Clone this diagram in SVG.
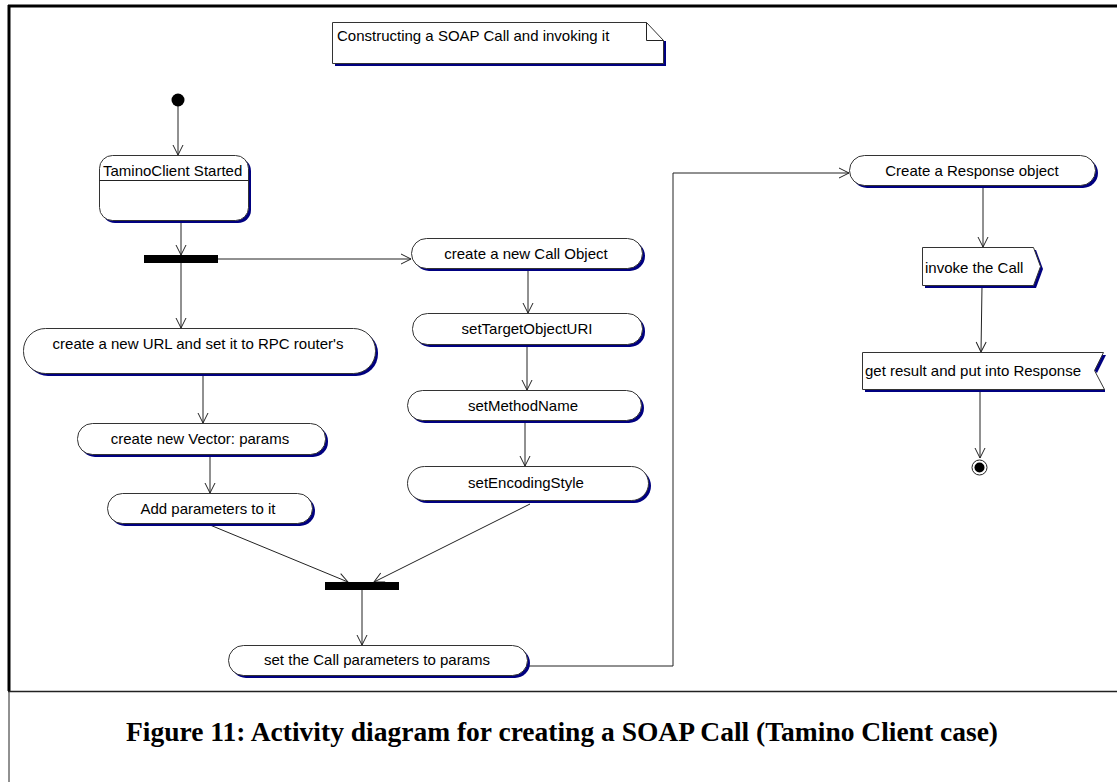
<svg xmlns="http://www.w3.org/2000/svg" width="1117" height="782" viewBox="0 0 1117 782">
  <style>
    .lbl { font-family: "Liberation Sans", Arial, sans-serif; font-size: 15px; fill: #000; }
    .mid { text-anchor: middle; }
    .box { fill: #fff; stroke: #333; stroke-width: 1; }
    .shadow { fill: #000080; }
    .edge { fill: none; stroke: #222; stroke-width: 1; }
    .cap { font-family: "Liberation Serif", "Times New Roman", serif; font-size: 27.5px; font-weight: bold; fill: #000; }
  </style>
  <defs>
    <marker id="open" markerUnits="userSpaceOnUse" markerWidth="12" markerHeight="12" refX="11" refY="6" orient="auto" viewBox="0 0 12 12">
      <path d="M1,1 L11,6 L1,11" fill="none" stroke="#222" stroke-width="1"/>
    </marker>
  </defs>

  <rect width="1117" height="782" fill="#fff"/>

  <!-- frame and caption cell -->
  <g id="frame">
    <line x1="8" y1="6" x2="1117" y2="6" stroke="#000" stroke-width="3"/>
    <line x1="9" y1="5" x2="9" y2="691" stroke="#000" stroke-width="3"/>
    <line x1="8" y1="691.5" x2="1117" y2="691.5" stroke="#222" stroke-width="1.5"/>
    <line x1="9" y1="691" x2="9" y2="782" stroke="#222" stroke-width="1"/>
  </g>

  <!-- connectors -->
  <g id="connectors">
    <line class="edge" x1="178" y1="106" x2="178" y2="155" marker-end="url(#open)"/>
    <line class="edge" x1="181" y1="221" x2="181" y2="255" marker-end="url(#open)"/>
    <line class="edge" x1="181" y1="263" x2="181" y2="328" marker-end="url(#open)"/>
    <line class="edge" x1="218" y1="259" x2="411" y2="259" marker-end="url(#open)"/>
    <line class="edge" x1="528" y1="269" x2="528" y2="313" marker-end="url(#open)"/>
    <line class="edge" x1="527" y1="345" x2="527" y2="390" marker-end="url(#open)"/>
    <line class="edge" x1="525" y1="421" x2="525" y2="466" marker-end="url(#open)"/>
    <line class="edge" x1="203" y1="376" x2="203" y2="423" marker-end="url(#open)"/>
    <line class="edge" x1="210" y1="455" x2="210" y2="493" marker-end="url(#open)"/>
    <line class="edge" x1="210" y1="525" x2="348" y2="582" marker-end="url(#open)"/>
    <line class="edge" x1="530" y1="504" x2="374" y2="582" marker-end="url(#open)"/>
    <line class="edge" x1="362" y1="590" x2="362" y2="645" marker-end="url(#open)"/>
    <polyline class="edge" points="529,666 673,666 673,173 849,173" marker-end="url(#open)"/>
    <line class="edge" x1="983" y1="186" x2="983" y2="247" marker-end="url(#open)"/>
    <line class="edge" x1="982" y1="286" x2="981" y2="352" marker-end="url(#open)"/>
    <line class="edge" x1="980" y1="390" x2="980" y2="458" marker-end="url(#open)"/>
  </g>

  <!-- note -->
  <g id="note">
    <path class="shadow" d="M663,41 L666,41 L666,66 L335,66 L335,63 L663,63 Z"/>
    <path class="box" d="M332.5,22.5 L646.5,22.5 L663.5,40.5 L663.5,63.5 L332.5,63.5 Z"/>
    <path class="edge" d="M646.5,22.5 L646.5,40.5 L663.5,40.5"/>
    <text class="lbl" x="337" y="41">Constructing a SOAP Call and invoking it</text>
  </g>

  <!-- initial state -->
  <g id="start">
    <circle cx="178" cy="100" r="6.5" fill="#000"/>
  </g>

  <g id="tamino-started">
    <rect class="shadow" x="102" y="158" width="149" height="65" rx="13"/>
    <rect class="box" x="99.5" y="155.5" width="149" height="65" rx="13"/>
    <line class="edge" x1="99.5" y1="180.5" x2="248.5" y2="180.5"/>
    <text class="lbl" x="103" y="176">TaminoClient Started</text>
  </g>

  <g id="fork">
    <rect x="144" y="255" width="74" height="8" fill="#000"/>
  </g>

  <g id="new-url">
    <rect class="shadow" x="26" y="331" width="352" height="45" rx="22"/>
    <rect class="box" x="23.5" y="328.5" width="352" height="45" rx="22"/>
    <text class="lbl mid" x="198" y="349">create a new URL and set it to RPC router's</text>
  </g>

  <g id="new-vector">
    <rect class="shadow" x="80" y="426" width="248" height="31" rx="15"/>
    <rect class="box" x="77.5" y="423.5" width="248" height="31" rx="15"/>
    <text class="lbl mid" x="200" y="444">create new Vector: params</text>
  </g>

  <g id="add-params">
    <rect class="shadow" x="110" y="496" width="205" height="30" rx="15"/>
    <rect class="box" x="107.5" y="493.5" width="205" height="30" rx="15"/>
    <text class="lbl mid" x="208" y="514">Add parameters to it</text>
  </g>

  <g id="new-call">
    <rect class="shadow" x="414" y="241" width="231" height="30" rx="15"/>
    <rect class="box" x="411.5" y="238.5" width="231" height="30" rx="15"/>
    <text class="lbl mid" x="526" y="259">create a new Call Object</text>
  </g>

  <g id="set-target">
    <rect class="shadow" x="415" y="316" width="230" height="31" rx="15"/>
    <rect class="box" x="412.5" y="313.5" width="230" height="31" rx="15"/>
    <text class="lbl mid" x="527" y="334">setTargetObjectURI</text>
  </g>

  <g id="set-method">
    <rect class="shadow" x="410" y="393" width="234" height="30" rx="15"/>
    <rect class="box" x="407.5" y="390.5" width="234" height="30" rx="15"/>
    <text class="lbl mid" x="523" y="411">setMethodName</text>
  </g>

  <g id="set-encoding">
    <rect class="shadow" x="410" y="469" width="241" height="34" rx="17"/>
    <rect class="box" x="407.5" y="466.5" width="241" height="34" rx="17"/>
    <text class="lbl mid" x="526" y="488">setEncodingStyle</text>
  </g>

  <g id="join">
    <rect x="325" y="582" width="74" height="8" fill="#000"/>
  </g>

  <g id="set-call-params">
    <rect class="shadow" x="231" y="648" width="299" height="30" rx="15"/>
    <rect class="box" x="228.5" y="645.5" width="299" height="30" rx="15"/>
    <text class="lbl mid" x="377" y="665">set the Call parameters to params</text>
  </g>

  <g id="create-response">
    <rect class="shadow" x="852" y="158" width="246" height="30" rx="15"/>
    <rect class="box" x="849.5" y="155.5" width="246" height="30" rx="15"/>
    <text class="lbl mid" x="972" y="176">Create a Response object</text>
  </g>

  <g id="invoke-call">
    <path class="shadow" d="M925,250 L1036,250 L1043,269 L1036,288 L925,288 Z"/>
    <path class="box" d="M922.5,247.5 L1033.5,247.5 L1040.5,266.5 L1033.5,285.5 L922.5,285.5 Z"/>
    <text class="lbl" x="925" y="273">invoke the Call</text>
  </g>

  <g id="get-result">
    <path class="shadow" d="M865,355 L1106,355 L1097,373 L1094,370 L1103,352 Z M865,389 L1105,389 L1105,392 L865,392 Z"/>
    <path class="box" d="M862.5,352.5 L1103.5,352.5 L1094.5,370.5 L1104.5,389.5 L862.5,389.5 Z"/>
    <text class="lbl" x="865" y="376">get result and put into Response</text>
  </g>

  <g id="end">
    <circle cx="979.5" cy="467.5" r="7.5" fill="#fff" stroke="#222" stroke-width="1"/>
    <circle cx="979.5" cy="467.5" r="5" fill="#000"/>
  </g>

  <g id="caption">
    <text class="cap mid" x="562" y="741">Figure 11: Activity diagram for creating a SOAP Call (Tamino Client case)</text>
  </g>
</svg>
